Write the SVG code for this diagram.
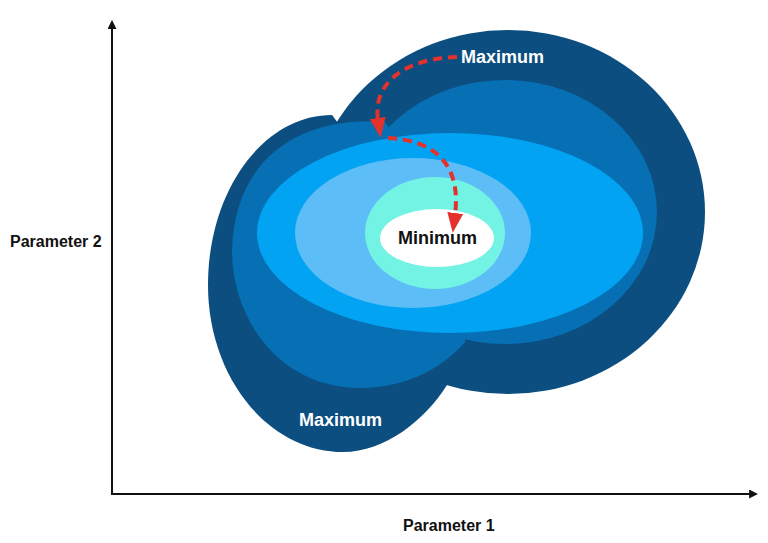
<svg xmlns="http://www.w3.org/2000/svg" width="768" height="543" viewBox="0 0 768 543">
  <style>
    .lbl { font-family: "Liberation Sans", Arial, Helvetica, sans-serif; font-weight: bold; font-size: 18px; }
    .axislbl { font-family: "Liberation Sans", Arial, Helvetica, sans-serif; font-weight: bold; font-size: 16px; fill: #111111; }
    .white { fill: #ffffff; }
    .black { fill: #111111; }
    .axis { stroke: #111111; stroke-width: 2; fill: none; }
    .path { stroke: #e3312b; stroke-width: 4; stroke-dasharray: 9 6; fill: none; }
    .c1 { fill: #0b4e7f; }
    .c2 { fill: #0770b4; }
    .c3 { fill: #03a3f4; }
    .c4 { fill: #5dbdf6; }
    .c5 { fill: #72f3e3; }
    .c6 { fill: #ffffff; }
  </style>
  <defs>
    <marker id="axhead" viewBox="0 0 10 10" refX="1" refY="5" markerWidth="9" markerHeight="9" markerUnits="userSpaceOnUse" orient="auto">
      <path d="M0,0 L10,5 L0,10 Z" fill="#111111"/>
    </marker>
    <marker id="redhead" viewBox="0 0 20 16" refX="2" refY="8" markerWidth="20" markerHeight="16" markerUnits="userSpaceOnUse" orient="auto">
      <path d="M0,0 L20,8 L0,16 Z" fill="#e3312b"/>
    </marker>
  </defs>

  <rect width="768" height="543" fill="#ffffff"/>

  <g id="axes">
    <line class="axis" x1="112" y1="494" x2="112" y2="28" marker-end="url(#axhead)"/>
    <line class="axis" x1="111" y1="494" x2="750" y2="494" marker-end="url(#axhead)"/>
    <text class="axislbl" x="10" y="247">Parameter 2</text>
    <text class="axislbl" x="403" y="531">Parameter 1</text>
  </g>

  <g id="contour-outer">
    <ellipse class="c1" cx="508" cy="212" rx="197" ry="182"/>
    <path class="c1" d="M 332 115 C 263 115, 208 191, 208 285 C 208 377, 268 452, 343 452 C 385 452, 425 420, 447 385 L 470 300 Z"/>
  </g>

  <g id="contour-2">
    <ellipse class="c2" cx="505" cy="212" rx="152" ry="132"/>
    <path class="c2" d="M 385 122 C 310 116, 235 150, 232 250 C 232 320, 280 388, 360 388 C 410 388, 445 365, 465 342 L 480 250 Z"/>
  </g>

  <g id="contour-3">
    <ellipse class="c3" cx="450" cy="233" rx="193" ry="100"/>
  </g>

  <g id="contour-4">
    <ellipse class="c4" cx="413" cy="233" rx="118" ry="75"/>
  </g>

  <g id="contour-5">
    <ellipse class="c5" cx="435" cy="233" rx="70" ry="56"/>
  </g>

  <g id="minimum">
    <ellipse class="c6" cx="437" cy="238" rx="57" ry="29"/>
    <text class="lbl black" x="398" y="244">Minimum</text>
  </g>

  <g id="maximum-top">
    <text class="lbl white" x="461" y="63">Maximum</text>
  </g>

  <g id="maximum-bottom">
    <text class="lbl white" x="299" y="426">Maximum</text>
  </g>

  <g id="connectors">
    <path class="path" d="M 457 57 C 410 58, 372 80, 378 120" marker-end="url(#redhead)"/>
    <path class="path" d="M 388 138 C 430 140, 462 160, 455 215" marker-end="url(#redhead)"/>
  </g>
</svg>
